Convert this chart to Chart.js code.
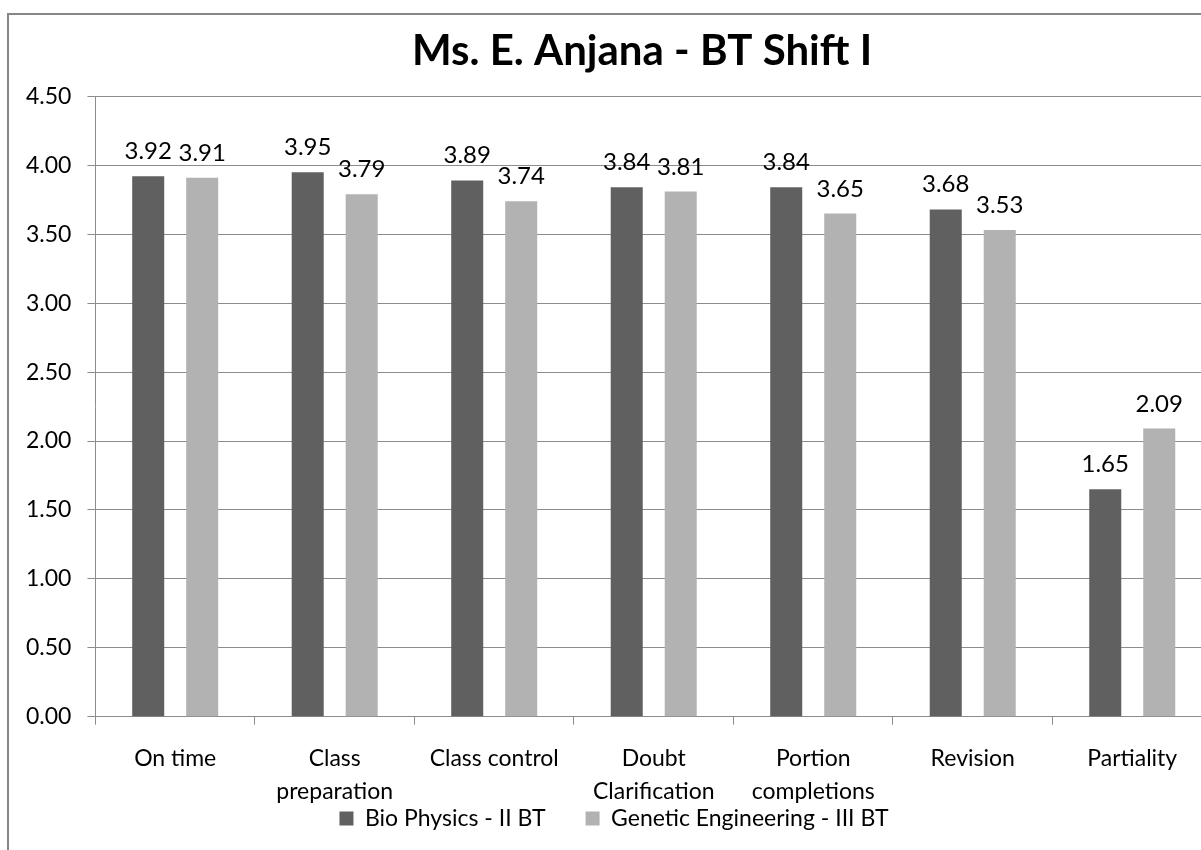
<!DOCTYPE html>
<html>
<head>
<meta charset="utf-8">
<title>Ms. E. Anjana - BT Shift I</title>
<script src="https://cdn.jsdelivr.net/npm/chart.js@4.4.0/dist/chart.umd.min.js"></script>
<style>
    html, body { margin: 0; padding: 0; background: #fff; overflow: hidden; }
    #wrap { position: relative; width: 1201px; height: 850px; overflow: hidden; }
    #frame {
        position: absolute; left: 7px; top: 13px;
        width: 1300px; height: 900px;
        border: 2px solid #878787; box-sizing: border-box;
    }
    #chart { position: absolute; left: 0; top: 0; }
</style>
</head>
<body>
<div id="wrap">
    <div id="frame"></div>
    <canvas id="chart" width="1284" height="850"></canvas>
</div>
<script>
// Dữ liệu biểu đồ
const categories = [
    'On time',
    ['Class', 'preparation'],
    'Class control',
    ['Doubt', 'Clarification'],
    ['Portion', 'completions'],
    'Revision',
    'Partiality'
];
const bioPhysics = [3.92, 3.95, 3.89, 3.84, 3.84, 3.68, 1.65];
const geneticEng = [3.91, 3.79, 3.74, 3.81, 3.65, 3.53, 2.09];
const seriesNames = ['Bio Physics - II BT', 'Genetic Engineering - III BT'];
const yTicks = [0, 0.5, 1, 1.5, 2, 2.5, 3, 3.5, 4, 4.5];

const FONT = 'Lato, "Open Sans", sans-serif';
const gridColor = '#8c8c8c';

// Vẽ nhãn giá trị phía trên mỗi cột
const valueLabels = {
    id: 'valueLabels',
    afterDatasetsDraw: function (chart) {
        const ctx = chart.ctx;
        ctx.save();
        ctx.font = '24px ' + FONT;
        ctx.fillStyle = '#000';
        ctx.textAlign = 'center';
        ctx.textBaseline = 'alphabetic';
        chart.data.datasets.forEach(function (ds, i) {
            chart.getDatasetMeta(i).data.forEach(function (bar, j) {
                ctx.fillText(ds.data[j].toFixed(2), bar.x, bar.y - 17);
            });
        });
        ctx.restore();
    }
};

// Đặt lại vị trí tiêu đề và chú thích giống bản gốc
const blockShift = {
    id: 'blockShift',
    afterLayout: function (chart) {
        const t = chart.titleBlock;
        t.left += 31;
        t.right += 31;
        const lg = chart.legend;
        const dy = 767 - lg.top;
        lg.left += 3;
        lg.right += 3;
        lg.top += dy;
        lg.bottom += dy;
    }
};

const chart = new Chart(document.getElementById('chart'), {
    type: 'bar',
    data: {
        labels: categories,
        datasets: [
            {
                label: seriesNames[0],
                data: bioPhysics,
                backgroundColor: '#606060',
                barPercentage: 0.593,
                categoryPercentage: 0.677
            },
            {
                label: seriesNames[1],
                data: geneticEng,
                backgroundColor: '#b2b2b2',
                barPercentage: 0.593,
                categoryPercentage: 0.677
            }
        ]
    },
    options: {
        responsive: false,
        animation: false,
        layout: { padding: { left: 10, right: 72, top: 16, bottom: -49 } },
        plugins: {
            title: {
                display: true,
                text: 'Ms. E. Anjana - BT Shift I',
                color: '#000',
                font: { family: FONT, size: 42, weight: 'bold' },
                padding: { top: 10, bottom: 20 }
            },
            legend: {
                display: true,
                position: 'bottom',
                labels: {
                    color: '#000',
                    font: { family: FONT, size: 23 },
                    boxWidth: 14,
                    boxHeight: 14,
                    padding: 40
                }
            },
            tooltip: { enabled: false }
        },
        scales: {
            x: {
                grid: {
                    display: true,
                    drawOnChartArea: false,
                    drawTicks: true,
                    tickLength: 8,
                    color: gridColor
                },
                border: { color: gridColor },
                ticks: {
                    color: '#000',
                    font: { family: FONT, size: 23, lineHeight: 1.42 },
                    padding: 18,
                    maxRotation: 0,
                    autoSkip: false
                }
            },
            y: {
                min: 0,
                max: 4.5,
                afterBuildTicks: function (axis) {
                    axis.ticks = yTicks.map(function (v) { return { value: v }; });
                },
                grid: {
                    color: gridColor,
                    tickLength: 8
                },
                border: { color: gridColor },
                ticks: {
                    color: '#000',
                    font: { family: FONT, size: 23 },
                    padding: 16,
                    callback: function (v) { return Number(v).toFixed(2); }
                }
            }
        }
    },
    plugins: [valueLabels, blockShift]
});
</script>
</body>
</html>
